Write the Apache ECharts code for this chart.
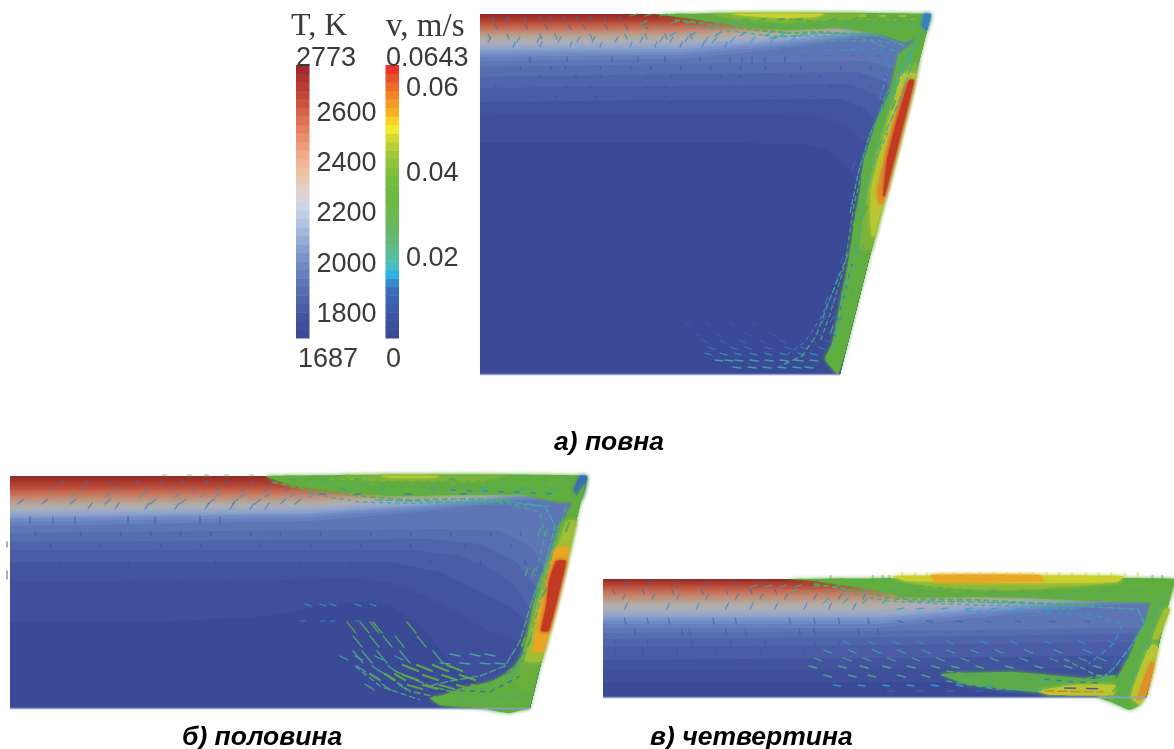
<!DOCTYPE html>
<html><head><meta charset="utf-8">
<style>html,body{margin:0;padding:0;background:#fff}#c{width:1174px;height:749px;filter:blur(0.6px)}</style>
<script src="https://cdn.jsdelivr.net/npm/echarts@6/dist/echarts.min.js"></script>
</head><body><div id="c"></div>
<script>
// ---------- colour legends (bottom band to top band) ----------
const tMin = 1687, tMax = 2773, vMin = 0, vMax = 0.0643;
const tLevels = ['#3b4a96','#3f4f9b','#43549f','#4a5ca5','#5064ab','#566db0','#5e76b6','#6680bd','#708ac3','#7c94c9','#88a0cf','#96acd5','#a4b8dc','#b2c3e2','#bfcde6','#ccd5e6','#d7d7d8','#dfd3c8','#e8c8b5','#edbfa5','#f0b597','#f0aa88','#ed9d7a','#e88f6c','#e3815f','#dc7253','#d46348','#cc543f','#c34738','#b93b34','#ae3232','#a32b30'];
const tFieldLevels = ['#3b4a96','#3f4f9b','#43549f','#4a5ca5','#5064ab','#566db0','#5e76b6','#6680bd','#708ac3','#7c94c9','#88a0cb','#94a5c9','#9ea9c4','#a8adbd','#adaeb3','#b0aca8','#b3a99d','#b8a090','#bd9683','#c28c76','#c6816a','#c7765e','#c66c54','#c4634b','#c05943','#bb503c','#b54736','#ae3f31','#a7392d','#a0342b','#9a302a','#942c29'];
const vLevels = ['#3b4a96','#3b4f9c','#3b55a2','#3a5ca9','#3a64af','#3a6eb6','#3a88cc','#2fb2e4','#48bdbf','#55bda6','#5fba8d','#64b878','#68b768','#6ab85c','#6bb950','#6cba48','#6cba44','#6eba42','#74bc40','#80c03e','#8ec33c','#a0c83a','#b8d036','#d0da30','#f2ec2a','#fbd025','#fab024','#f69a26','#f08428','#ec6c2a','#e9502c','#e8322c'];
const vFieldLevels = ['#3b4a96','#3b4f9c','#3b55a2','#3a5ca9','#3a64af','#3a6eb6','#3a80c0','#2f9fc8','#3fa8a8','#48a895','#50a880','#54a86c','#58a85c','#5aa852','#5cab48','#5eac42','#60ad40','#64ae3e','#6cb03c','#7ab43a','#8ab838','#a0be36','#b8c632','#ccd02e','#e2da2a','#e8c026','#e8a624','#e09028','#d87828','#d06028','#c84a26','#c23a24'];
const tLabels = [1800,2000,2200,2400,2600];
const vLabels = [0.02,0.04,0.06];
const tTicks = [1720,1760,1800,1840,1880,1920,1960,2000,2040,2080,2120,2160,2200,2240,2280,2320,2360,2400,2440,2480,2520,2560,2600,2640,2680,2720];
const vTicks = [0.0025,0.005,0.0075,0.01,0.0125,0.015,0.0175,0.02,0.0225,0.025,0.0275,0.03,0.0325,0.035,0.0375,0.04,0.0425,0.045,0.0475,0.05,0.0525,0.055,0.0575,0.06,0.0625];

// ---------- panel a) повна ----------
const aShape = [[0,0],[451,0],[360,360],[0,360]];
const aContours = [
 [[0,129],[250,129],[323,130],[345,135],[365,150],[383,176],[395,200],[400,260]],
 [[0,101],[250,100],[340,102],[365,112],[385,128],[400,150],[415,175]],
 [[0,88],[200,86],[360,85],[385,95],[405,115],[420,140]],
 [[0,74],[200,72],[370,70],[395,80],[415,100],[430,125]],
 [[0,63],[200,60],[380,58],[405,68],[425,90]],
 [[0,53],[200,50],[385,47],[415,55],[432,75]]];
const aDepths = [47,43,40,37,35,33,31,29,27,25,23,21,19,17.5,16,14.5,13,11.5,10,8.5,7,5.5,4,2.5,1.2];
const aTopX = [0,200,300,380,451];
const aTopScale = [1,0.95,0.75,0.5,0.35];
const aFlow = [
 [0.033,[[175,0],[451,0],[440,20],[425,28],[400,20],[356,14],[307,16],[273,14],[240,9],[207,4]]],
 [0.04,[[230,0],[390,0],[365,5],[300,9],[255,5]]],
 [0.047,[[250,0],[345,0],[335,3],[300,4],[265,2]]],
 [0.033,[[445,5],[432,30],[419,40],[409,80],[395,113],[384,146],[380,176],[374,210],[368,250],[360,290],[352,330],[345,345],[358,360],[470,0]]],
 [0.039,[[430,50],[412,90],[400,125],[390,160],[385,195],[380,235],[400,235],[450,50]]],
 [0.046,[[421,60],[416,80],[407,113],[398,146],[391,176],[390,200],[392,222],[410,222],[450,60]]],
 [0.056,[[425,70],[412,113],[404,146],[397,176],[399,190],[420,190],[450,70]]],
 [0.063,[[429,66],[415,113],[407,146],[403,182],[420,182],[450,66]]],
 [0.013,[[444,0],[460,0],[450,20],[442,12]]]];
const aLines = [
 [0.03,2,[[195,6],[240,12],[275,16],[310,19],[345,18],[400,22]],[5,3]],
 [0.02,1.5,[[215,12],[250,17],[290,22],[340,22],[380,24],[415,30]],[4,4]],
 [0.036,1.5,[[210,2],[300,10],[380,10],[440,8]],[6,3]],
 [0.025,1.5,[[300,5],[350,8],[430,14]],[5,4]],
 [0.042,1.2,[[350,4],[400,6],[440,5]],[5,4]],
 [0.017,1.4,[[290,24],[340,19],[400,22],[425,32],[432,50],[420,85],[405,120]],[8,2]],
 [0.019,1.2,[[330,27],[390,27],[418,38],[420,60],[410,90]],[7,3]],
 [0.015,1.1,[[360,36],[400,34],[410,50],[400,85]],[6,4]],
 [0.018,1.3,[[435,30],[412,75],[390,120],[378,160],[370,200]],[6,2]],
 [0.024,1.2,[[428,40],[404,85],[388,135],[374,190],[365,250],[350,300],[340,328]],[5,3]],
 [0.018,1.2,[[441,20],[420,65],[403,110],[392,150],[384,190],[378,230],[368,270],[358,310],[352,338]],[7,3]],
 [0.012,1.4,[[372,250],[362,290],[352,325]],[3,8]],
 [0.02,1.2,[[408,118],[394,150],[382,180],[372,215]],[5,3]],
 [0.021,1.3,[[368,240],[356,270],[346,295],[336,322],[322,342],[300,352]],[6,3]],
 [0.016,1,[[360,258],[350,285],[340,305],[325,328],[305,342]],[4,4]]];
const aRows = [
 [0.011,1,4,3,[13,27,45,60,70,83,97,110,125,140]],
 [0.012,3,4,11,[15,45,65,88,103,125,145,165]],
 [0.013,2,5,20,[8,27,60,75,110,145,165,185,210]],
 [0.014,3,-5,28,[8,37,57,78,97,112,135,160,180,190,205,225]],
 [0.013,2,-5,33,[33,60,90,120,150,175,200,222,245]],
 [0.007,0,5,43,[50,87,132,158,185,220,250,262,272,285,305]],
 [0.006,1,3,52,[40,70,85,120,150,170,200,230,260,285,320,360,390]],
 [0.006,2,2,62,[60,95,120,165,190,240,260,310,340,380,405]],
 [0.005,2,2,72,[15,50,85,110,165,185,250,290,350,390]],
 [0.004,2,1,82,[50,75,115,185,250,290,330,400]],
 [0.004,2,1,92,[70,100,170,240,300,380]],
 [0.004,2,1,102,[120,200,260,330]],
 [0.022,7,-2,2,[150,165,180,195]],
 [0.018,7,-3,10,[160,190,205,220,235,250]],
 [0.021,7,-2,14,[160,175,205,230,255]],
 [0.016,6,-4,22,[190,210,235,260,285,300]],
 [0.015,5,-6,29,[232,250,270,290,310]],
 [0.014,6,0,34,[300,320,345,365,385,405]],
 [0.012,5,0,42,[320,345,370,395]],
 [0.027,6,-1,6,[262,280,298,316,350,372,398,418]],
 [0.02,6,0,11,[270,292,318,340,365,388,412,430]],
 [0.044,5,0,2,[380,400,420]],
 [0.027,3,-8,95,[404,412]],
 [0.025,3,-8,135,[390,398]],
 [0.027,3,-8,200,[376,384]],
 [0.024,3,-8,240,[372,380]],
 [0.027,3,-8,280,[362,370]],
 [0.022,3,-8,320,[350,358]],
 [0.018,8,1,353,[253,268,283,298,313,325]],
 [0.017,8,1,346,[235,245,255,270,285,300,315,330]],
 [0.015,7,2,339,[225,240,255,270,285,300,318,330]],
 [0.013,7,2,333,[228,250,265,285,305,320,338]],
 [0.011,6,3,326,[222,240,260,280,300,330,345]],
 [0.009,6,3,319,[215,235,265,290,335,350]],
 [0.007,5,4,308,[205,225,250,272]],
 [0.014,4,-6,308,[342,350,358]],
 [0.013,3,-7,290,[345,353]],
 [0.014,3,-7,270,[355,363]],
 [0.012,3,-7,250,[360]],
 [0.012,3,-7,155,[378,372]]];

// ---------- panel б) половина ----------
const bShape = [[0,0],[577,0],[520,232],[0,232]];
const bContours = [
 [[0,146],[150,146],[260,140],[300,132],[330,128],[350,125],[380,129],[413,152],[437,182],[453,197],[475,215]],
 [[0,106],[280,104],[347,102],[380,107],[413,119],[447,136],[480,156],[507,166],[525,175]],
 [[0,86],[380,86],[430,96],[463,112],[497,129],[513,142],[530,170]],
 [[0,74],[400,74],[447,79],[480,92],[505,110],[525,140]],
 [[0,66],[420,63],[470,68],[505,85],[525,110],[535,135]],
 [[0,57],[430,53],[490,55],[520,70],[540,100]]];
const bDepths = [50,46,43,41,39,37,35,33,32,30,28,26,24,22,20,18,16,14.5,13,11,9,7,5,3,1.5];
const bTopX = [0,300,420,500,577];
const bTopScale = [1,0.9,0.7,0.5,0.4];
const bFlow = [
 [0.033,[[255,0],[585,0],[572,25],[550,26],[513,19],[447,19],[380,20],[313,14],[285,10],[268,5]]],
 [0.04,[[330,0],[500,0],[470,4],[350,4]]],
 [0.046,[[370,0],[430,0],[425,2],[380,2]]],
 [0.012,[[570,0],[585,0],[572,25],[564,14]]],
 [0.033,[[563,26],[552,49],[545,76],[535,102],[527,129],[518,156],[512,179],[500,196],[480,206],[453,212],[433,219],[420,222],[430,229],[467,232],[520,232],[580,0]]],
 [0.033,[[430,228],[467,231],[490,236],[500,237],[512,234],[520,232],[515,225],[440,225]],true],
 [0.038,[[552,45],[542,75],[530,105],[522,135],[517,165],[510,190],[505,208],[520,215],[570,45]]],
 [0.044,[[557,45],[548,70],[537,100],[527,130],[520,160],[515,185],[535,185],[575,45]]],
 [0.054,[[545,72],[537,100],[530,130],[525,160],[523,175],[540,175],[570,72]]],
 [0.063,[[546,85],[539,105],[536,130],[531,155],[545,155],[570,85]]]];
const bLines = [
 [0.03,2,[[262,6],[300,14],[350,20],[400,24],[450,23],[500,24]],[6,3]],
 [0.02,1.5,[[290,16],[350,26],[430,28],[500,28],[540,30]],[4,4]],
 [0.024,1.5,[[300,6],[380,10],[460,12],[540,12]],[6,4]],
 [0.042,1.2,[[320,3],[400,5],[480,5]],[5,5]],
 [0.014,1.6,[[440,14],[500,16],[550,18]],[6,10]],
 [0.018,1.6,[[365,24],[430,26],[500,26],[535,30],[545,50],[535,90],[522,125]],[8,2]],
 [0.019,1.2,[[505,30],[530,36],[535,60],[525,100]],[6,3]],
 [0.021,1.4,[[522,125],[510,165],[495,190],[470,200],[440,205],[420,210]],[8,2]],
 [0.018,1.2,[[556,30],[546,65],[538,95],[530,125],[521,160],[513,185],[497,203]],[7,3]],
 [0.024,1.2,[[548,50],[540,80],[530,112],[520,150]],[5,3]],
 [0.028,1.6,[[385,195],[420,210],[450,218],[480,210],[505,190]],[9,2]],
 [0.026,1.5,[[370,195],[400,215],[430,222]],[7,3]],
 [0.02,1.3,[[345,190],[370,210],[410,224]],[6,3]],
 [0.012,1.4,[[440,214],[480,216],[510,200]],[5,5]],
 [0.024,1.5,[[440,225],[480,226],[510,215]],[5,4]]];
const bRows = [
 [0.03,3,0,-0.5,[153,178,195,215,240]],
 [0.012,3,-3,8,[50,75,100,125,150,170,195,215,240,260]],
 [0.013,4,-3,15,[40,70,105,135,160,182,205,232,255,275]],
 [0.015,5,-3,21,[60,95,130,165,190,205,230,255,280,300]],
 [0.014,6,-5,28,[8,32,60,95,140,170,198,222,245,270,285]],
 [0.012,4,-6,33,[78,105,135,165,195,220,240,255]],
 [0.006,0,6,41,[20,43,65,118,145,190,210]],
 [0.005,1,3,56,[25,70,110,140,170,200,240,270,310,360,400,440,480,510]],
 [0.004,1,3,68,[40,90,150,190,250,300,350,400,455,500]],
 [0.004,1,3,85,[50,118,155,205,240,290,340,420,470,515]],
 [0.004,1,3,105,[10,70,120,170,220,280,350,420]],
 [0.004,1,3,125,[40,110,155,215,260,305]],
 [0.004,0,5,66,[-3]],[0.004,0,8,95,[-3]],
 [0.016,6,2,128,[295,310,320,345,360]],
 [0.014,5,0,145,[290,310,320,345]],
 [0.025,9,11,146,[360,363,350,337,397]],
 [0.024,9,11,160,[343,360,373,385,407]],
 [0.022,10,12,175,[343,352,367,390,423]],
 [0.018,8,4,180,[330,345,365,385]],
 [0.02,9,6,190,[347,362,378]],
 [0.019,10,2,178,[440,460,475]],
 [0.019,10,1,187,[430,450,470,485]],
 [0.031,15,6,189,[393,407,423,437]],
 [0.034,15,5,199,[393,413,432,450]],
 [0.032,14,4,209,[398,413,430,447,462]],
 [0.027,10,6,198,[360,375,385]],
 [0.022,9,6,208,[355,372,388]],
 [0.013,4,-3,180,[500,510]],
 [0.021,3,-8,60,[535,528]],
 [0.022,3,-8,100,[522,515]],
 [0.027,3,-8,55,[548,556]],
 [0.026,3,-8,120,[527,533]],
 [0.027,3,-8,170,[512,518]],
 [0.026,6,1,222,[448,468,490,505]],
 [0.037,5,0,8,[300,330,360,400,440,470,510,540]],
 [0.027,6,1,3,[280,310,345,440,490,530,555]],
 [0.015,6,1,13,[330,370,420,470,510,540]],
 [0.012,6,0,18,[310,345,395,450]]];

// ---------- panel в) четвертина ----------
const cShape = [[0,0],[582,0],[554,118],[0,118]];
const cContours = [
 [[0,103],[300,103],[582,103]],
 [[0,91],[300,90],[582,88]],
 [[0,81],[300,79],[582,76]],
 [[0,68],[300,66],[582,62]],
 [[0,60],[300,58],[582,54]],
 [[0,54],[300,52],[582,48]]];
const cDepths = [49,45,42,39,37,35,32,30,27.5,25,23,21,19,17,15,13,11.5,10,8.5,7,5.5,4,3,2,1];
const cTopX = [0,280,400,500,582];
const cTopScale = [1,1,0.75,0.55,0.45];
const cFlow = [
 [0.033,[[185,0],[582,0],[575,22],[500,22],[430,19],[380,18],[310,18],[280,12],[250,7],[215,2]],true],
 [0.041,[[300,0],[530,0],[500,6],[420,11],[340,9]],true],
 [0.048,[[295,-3],[530,-3],[525,3],[420,4],[310,2]],true],
 [0.054,[[334,-4],[444,-4],[450,2],[420,3],[340,3]],true],
 [0.033,[[560,19],[553,43],[544,59],[537,76],[524,99],[517,109],[510,114],[504,118],[520,124],[537,131],[547,126],[554,114],[570,50],[582,0]],true],
 [0.03,[[345,95],[420,93],[500,100],[522,96],[522,113],[440,113],[370,105]],true],
 [0.046,[[443,112],[480,106],[522,106],[520,116],[455,116]],true],
 [0.046,[[558,65],[548,88],[538,118],[547,126],[554,114],[566,68]],true],
 [0.055,[[559,82],[551,100],[544,122],[554,114],[562,85]],true],
 [0.043,[[572,30],[560,60],[566,60],[578,30]],true]];
const cLines = [
 [0.03,2,[[215,5],[260,12],[300,20],[380,21],[440,24],[500,26]],[6,3]],
 [0.02,1.5,[[240,12],[290,22],[350,25],[420,27],[480,30]],[4,4]],
 [0.025,1.5,[[300,5],[380,12],[450,15],[550,12]],[6,4]],
 [0.018,1.5,[[310,22],[380,23],[440,25],[500,28],[545,30],[552,45],[540,65],[520,90],[505,102]],[8,2]],
 [0.016,1.2,[[370,32],[440,33],[500,36],[530,45],[520,65],[495,85]],[6,4]],
 [0.021,1.5,[[470,80],[500,95],[520,100]],[6,3]],
 [0.024,1.3,[[566,20],[555,50],[545,75],[530,100],[515,118]],[6,3]],
 [0.018,1.3,[[572,15],[560,50],[550,80],[538,105],[525,125]],[5,3]],
 [0.026,1.4,[[350,92],[410,100],[470,102],[515,96]],[7,3]],
 [0.02,1.6,[[350,102],[400,110],[450,111]],[6,4]],
 [0.012,1.4,[[450,100],[480,103],[510,104]],[5,7]],
 [0.057,1.4,[[450,112],[510,113]],[10,3]],
 [0.003,1.5,[[470,109],[510,110]],[12,10]]];
const cRows = [
 [0.012,1,5,3,[22,47,75,105,135,160]],
 [0.012,2,5,10,[10,40,70,100,125,150,175]],
 [0.014,3,-5,20,[20,50,75,105,135,160,185,215,240,265]],
 [0.013,3,-6,30,[22,65,95,125,150,175,205,230,255]],
 [0.01,1,6,39,[22,45,67,112,135,190,215,240,270]],
 [0.007,1,6,50,[32,80,88,125,145,200,215,260,280]],
 [0.006,1,4,62,[12,45,90,130,165,215,240]],
 [0.005,1,4,72,[12,40,75,115,160,205,250]],
 [0.004,2,1,85,[60,100,145,190]],
 [0.004,2,1,95,[100,160,225]],
 [0.047,0,2.5,-5.5,[305,318,330,345,358,372,385,398,412,425,438,452,465,478,492,505,518,532,545]],
 [0.03,0,2.5,-3,[232,275,285,292,560,570]],
 [0.018,7,-2,8,[150,165,180,195,215,235]],
 [0.02,7,-3,14,[190,205,225,245,262,280]],
 [0.017,5,-5,24,[225,245,265,285]],
 [0.027,6,0,12,[295,320,345,370,395,425,450,480,510,540]],
 [0.022,6,1,17,[300,330,360,395,430,470,505,540]],
 [0.015,7,-1,30,[300,320,345,370,395,420,450,480]],
 [0.01,6,1,42,[300,330,360,390,420,455,490]],
 [0.011,6,2,52,[290,310,345,380,410,440,475,510]],
 [0.015,7,3,62,[245,270,295,320,350,385,415,450,485,515]],
 [0.018,8,3,71,[225,250,275,300,325,350,375,400,430,460,490]],
 [0.02,8,3,79,[215,245,265,290,315,340,365,395,425,455,485,505]],
 [0.021,8,2,87,[210,240,262,285,310,335,355,380,410,440,470,500]],
 [0.024,8,2,96,[225,250,270,300,325,345,365,395]],
 [0.016,7,1,106,[235,260,285,310,335,360,390]],
 [0.012,7,0,112,[290,320,350,380,410]],
 [0.024,7,2,102,[420,440,460,480]],
 [0.013,3,-6,85,[530,520]],
 [0.024,3,-6,40,[562,555]],
 [0.026,3,-6,70,[548,555]],
 [0.026,3,-6,100,[530,538]]];

// ---------- captions ----------
const captions = [['а) повна',554,429],['б) половина',182,724],['в) четвертина',650,724]];

// ---------- rendering ----------
const band = (val, lo, hi, cols) => cols[Math.max(0, Math.min(cols.length - 1, Math.floor((val - lo) / (hi - lo) * cols.length)))];
const flowColor = v => band(v, vMin, vMax, vFieldLevels);
function clip(poly, shape) {
  let out = poly;
  for (let i = 0; i < shape.length; i++) {
    const a = shape[i], b = shape[(i + 1) % shape.length];
    const side = p => (b[0] - a[0]) * (p[1] - a[1]) - (b[1] - a[1]) * (p[0] - a[0]);
    const res = [];
    for (let j = 0; j < out.length; j++) {
      const p = out[j], q = out[(j + 1) % out.length], sp = side(p), sq = side(q);
      if (sp >= 0) res.push(p);
      if ((sp >= 0) !== (sq >= 0)) { const t = sp / (sp - sq); res.push([p[0] + t * (q[0] - p[0]), p[1] + t * (q[1] - p[1])]); }
    }
    out = res;
    if (!out.length) break;
  }
  return out;
}
const panels = [
 {left:480,top:14,shape:aShape,contours:aContours,depths:aDepths,topX:aTopX,topScale:aTopScale,flow:aFlow,lines:aLines,rows:aRows},
 {left:10,top:476,shape:bShape,contours:bContours,depths:bDepths,topX:bTopX,topScale:bTopScale,flow:bFlow,lines:bLines,rows:bRows},
 {left:603,top:579,shape:cShape,contours:cContours,depths:cDepths,topX:cTopX,topScale:cTopScale,flow:cFlow,lines:cLines,rows:cRows}];
const grid = [], xAxis = [], yAxis = [], series = [];
panels.forEach((p, g) => {
  const W = p.shape[1][0], H = p.shape[2][1];
  grid.push({left:p.left, top:p.top, width:W, height:H});
  xAxis.push({gridIndex:g, type:'value', min:0, max:W, show:false});
  yAxis.push({gridIndex:g, type:'value', min:0, max:H, inverse:true, show:false});
  const boundaries = p.contours.concat(p.depths.map(d => p.topX.map((x, i) => [x, d * p.topScale[i]])));
  const fields = [{poly:p.shape, fill:tFieldLevels[31]}].concat(boundaries.slice().reverse().map((line, i) => {
    const last = line[line.length - 1];
    return {poly:clip(line.concat([[W + 60, last[1]], [W + 60, H], [0, H]]), p.shape), fill:tFieldLevels[30 - i]};
  }));
  const base = {type:'custom', xAxisIndex:g, yAxisIndex:g, silent:true, animation:false};
  series.push(Object.assign({}, base, {data:fields.map((f, i) => [i]), renderItem(params, api) {
    const f = fields[params.dataIndex];
    return {type:'polygon', shape:{points:f.poly.map(q => api.coord(q))}, style:{fill:f.fill}};
  }}));
  series.push(Object.assign({}, base, {data:p.flow.map((f, i) => [i]), renderItem(params, api) {
    const f = p.flow[params.dataIndex];
    const pts = f[2] ? f[1] : clip(f[1], p.shape);
    const fill = flowColor(f[0]);
    return {type:'polygon', shape:{points:pts.map(q => api.coord(q)), smooth:0.12}, style:{fill, shadowColor:fill, shadowBlur:4}};
  }}));
  series.push(Object.assign({}, base, {data:p.lines.map((f, i) => [i]), renderItem(params, api) {
    const f = p.lines[params.dataIndex];
    return {type:'polyline', shape:{points:f[2].map(q => api.coord(q))}, style:{stroke:flowColor(f[0]), lineWidth:f[1], fill:'none', lineDash:f[3] || null, opacity:0.9}};
  }}));
  const glyphs = [];
  p.rows.forEach(r => r[4].forEach(x => glyphs.push([x, r[3], r[1], r[2], r[0]])));
  series.push(Object.assign({}, base, {data:glyphs, renderItem(params, api) {
    const x = api.value(0), y = api.value(1), dx = api.value(2), dy = api.value(3), v = api.value(4);
    const a = api.coord([x, y]), b = api.coord([x + dx, y + dy]);
    return {type:'line', shape:{x1:a[0], y1:a[1], x2:b[0], y2:b[1]},
      style:{stroke:flowColor(v), lineWidth:v > 0.025 ? 2.3 : 1.3, lineCap:'round', opacity:y < 0 ? 0.45 : (v < 0.016 ? 0.7 : 0.9)}};
  }}));
  series.push(Object.assign({}, base, {data:[[0]], renderItem(params, api) {
    const a = api.coord([0, H]), b = api.coord([p.shape[2][0], H]);
    return {type:'line', shape:{x1:a[0], y1:a[1] + 0.5, x2:b[0], y2:b[1] + 0.5}, style:{stroke:'#8e9bcf', lineWidth:1.5}};
  }}));
});
// colour bars
function colorBar(left, lo, hi, cols, labels, ticks, fmt) {
  const g = grid.length;
  grid.push({left:left, top:65, width:13.5, height:273});
  xAxis.push({gridIndex:g, type:'value', min:0, max:1, show:false});
  yAxis.push({gridIndex:g, type:'value', min:lo, max:hi, position:'right', splitLine:{show:false},
    axisLine:{show:false},
    axisTick:{show:true, length:3, customValues:ticks, lineStyle:{color:'#b9b9b9', width:1}},
    axisLabel:{show:true, customValues:labels, formatter:fmt, margin:7, color:'#3a3a3a', fontSize:27, fontFamily:'Liberation Sans', verticalAlign:'top', lineHeight:10}});
  series.push({type:'custom', xAxisIndex:g, yAxisIndex:g, silent:true, animation:false, data:cols.map((c, i) => [i]), renderItem(params, api) {
    const i = params.dataIndex, s = (hi - lo) / cols.length;
    const a = api.coord([0, lo + (i + 1) * s]), b = api.coord([1, lo + i * s]);
    return {type:'rect', shape:{x:a[0], y:a[1], width:b[0] - a[0], height:b[1] - a[1] + 0.5}, style:{fill:cols[i]}};
  }});
}
colorBar(296, tMin, tMax, tLevels, tLabels, tTicks, v => String(v));
colorBar(385.5, vMin, vMax, vLevels, vLabels, vTicks, v => v.toFixed(2));
const legendText = (text, left, top, size, family) => ({text, left, top, padding:0, textStyle:{fontFamily:family, fontWeight:'normal', fontSize:size, color:'#3a3a3a'}});
const title = [
  legendText('T, K', 291, 11, 32, 'Liberation Serif'),
  legendText('v, m/s', 386, 11, 33, 'Liberation Serif'),
  legendText(String(tMax), 296, 45, 27, 'Liberation Sans'),
  legendText(String(vMax), 386, 45, 27, 'Liberation Sans'),
  legendText(String(tMin), 298, 346, 27, 'Liberation Sans'),
  legendText(String(vMin), 386, 346, 27, 'Liberation Sans')
].concat(captions.map(c => ({text:c[0], left:c[1], top:c[2], padding:0, textStyle:{fontFamily:'Liberation Sans', fontStyle:'italic', fontWeight:'bold', fontSize:26.5, color:'#000'}})));
const chart = echarts.init(document.getElementById('c'), null, {renderer:'canvas'});
chart.setOption({backgroundColor:'#fff', animation:false, title, grid, xAxis, yAxis, series});
</script></body></html>
